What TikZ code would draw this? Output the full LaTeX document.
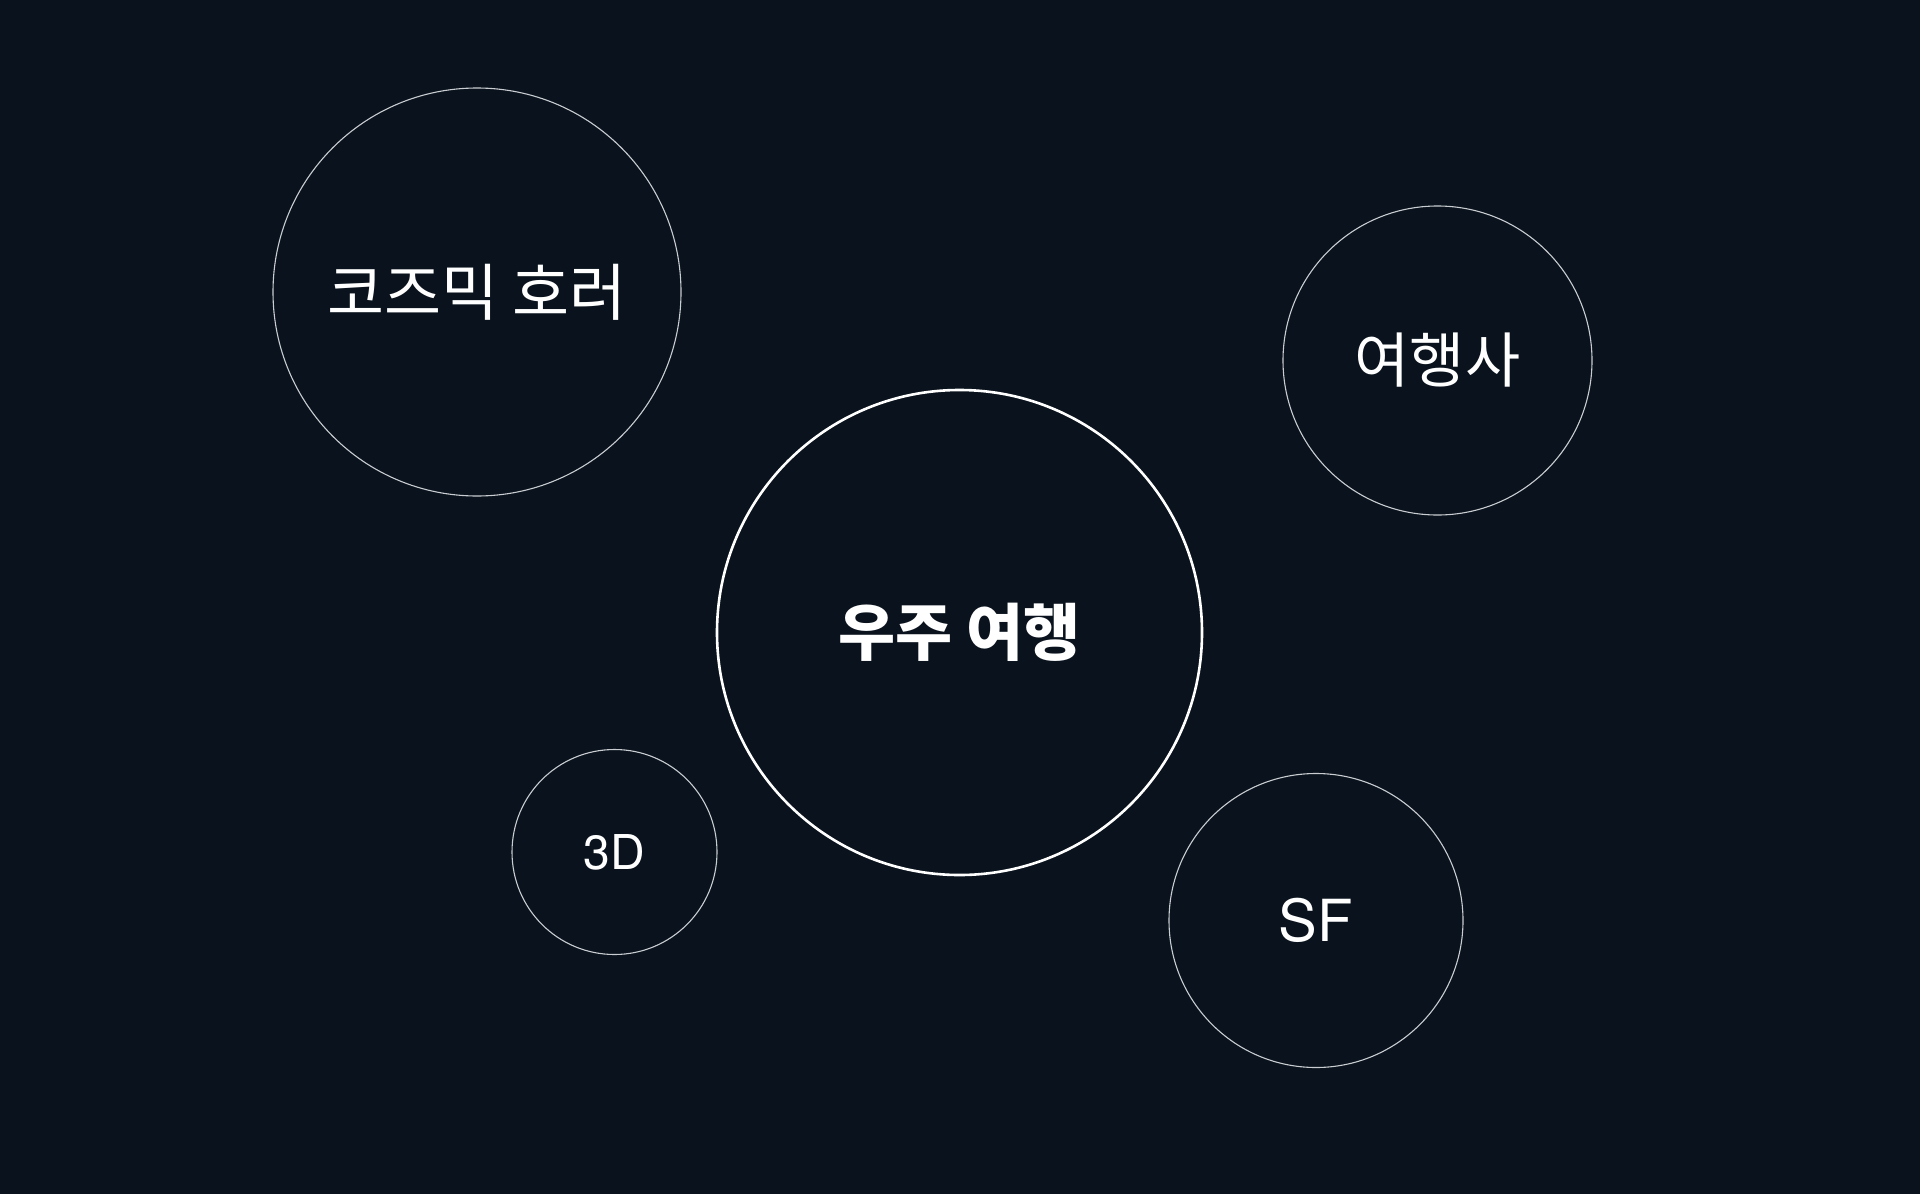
\documentclass[tikz,border=0pt]{standalone}
\usepackage{fontspec}
\setmainfont{Noto Sans CJK KR}
\newfontfamily\kr{Noto Sans CJK KR}
\newfontfamily\lat{TeX Gyre Heros}
\definecolor{bg}{HTML}{0A131D}
\definecolor{ring}{HTML}{C9CDD2}
\tikzset{
  bubble/.style={circle, draw=ring, line width=1.1pt, inner sep=0pt, text=white, align=center},
  hub/.style={circle, draw=white, line width=2.6pt, inner sep=0pt, text=white, align=center},
}
\begin{document}
\begin{tikzpicture}[x=1pt,y=-1pt]
\fill[bg] (0,0) rectangle (1920,1194);
\useasboundingbox (0,0) rectangle (1920,1194);
\node[bubble, minimum size=408pt, font=\kr\fontsize{62}{64}\selectfont] (horror) at (477,292) {코즈믹 호러};
\node[bubble, minimum size=309pt, font=\kr\fontsize{60}{62}\selectfont] (agency) at (1437.5,360.5) {여행사};
\node[hub, minimum size=485pt, font=\kr\bfseries\fontsize{62}{64}\selectfont] (space) at (959.5,632.5) {우주 여행};
\node[bubble, minimum size=205pt, font=\lat\fontsize{48}{50}\selectfont] (threed) at (614.5,852) {3D};
\node[bubble, minimum size=294pt, font=\lat\fontsize{58}{60}\selectfont] (sf) at (1316,920.5) {SF};
\end{tikzpicture}
\end{document}
